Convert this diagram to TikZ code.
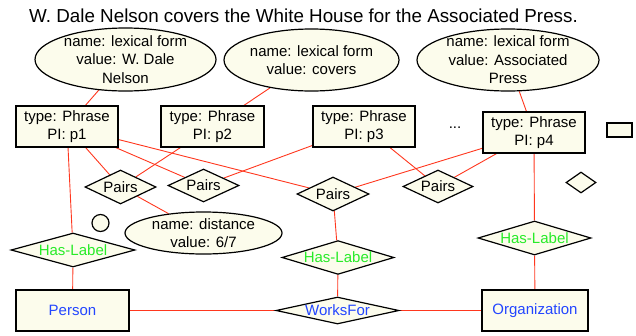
\documentclass[tikz,border=0pt]{standalone}
\usepackage{fontspec}
\setmainfont{Liberation Sans}
\usetikzlibrary{shapes.geometric,backgrounds}
\definecolor{fillc}{RGB}{252,252,236}
\definecolor{edgec}{RGB}{255,55,30}
\definecolor{greenc}{RGB}{40,235,40}
\definecolor{bluec}{RGB}{35,70,255}
\begin{document}
\begin{tikzpicture}[x=1pt,y=-1pt,
  font=\fontsize{15}{18.5}\selectfont,
  base/.style={draw=black, fill=fillc, line width=1.2pt},
  ent/.style 2 args={base, rectangle, inner sep=2pt, align=center, minimum width=#1, minimum height=#2},
  ell/.style 2 args={base, ellipse, inner xsep=0pt, inner ysep=-6pt, align=center, minimum width=#1, minimum height=#2},
  rel/.style 2 args={base, diamond, inner sep=0pt, aspect=3, minimum width=#1, minimum height=#2},
  link/.style={draw=edgec, line width=0.9pt}]
\useasboundingbox (0,0) rectangle (636,335);
\node[anchor=base, font=\fontsize{18.8}{22}\selectfont] (title) at (303.5,22) {W. Dale Nelson covers the White House for the Associated Press.};
% attribute ellipses
\node[ell={181}{63}] (e1) at (125.5,59.5) {name: lexical form\\value: W. Dale\\Nelson};
\node[ell={175}{62}] (e2) at (311.5,60) {name: lexical form\\value: covers};
\node[ell={182}{62}] (e3) at (508,60) {name: lexical form\\value: Associated\\Press};
% phrases
\node[ent={102}{41}] (p1) at (67,126.5) {type: Phrase\\PI: p1};
\node[ent={103}{41}] (p2) at (212.5,126.5) {type: Phrase\\PI: p2};
\node[ent={102}{41}] (p3) at (364,126.5) {type: Phrase\\PI: p3};
\node[ent={102}{41}] (p4) at (534,132.5) {type: Phrase\\PI: p4};
\node (dots) at (455,128) {...};
\node[ent={25}{14}, inner sep=0pt] (sq) at (619.5,130) {};
% pairs
\node[rel={71}{34}] (pr1) at (120.5,187) {Pairs};
\node[rel={71}{33}] (pr2) at (203.5,185.5) {Pairs};
\node[rel={72}{34}] (pr3) at (333,194) {Pairs};
\node[rel={70}{33}] (pr4) at (438,186.5) {Pairs};
\node[rel={30}{21}] (sd) at (581,182.5) {};
\node[base, circle, inner sep=0pt, minimum size=17pt] (circ) at (100.5,223) {};
\node[ell={157}{42}] (dist) at (203.5,233) {name: distance\\value: 6/7};
% labels
\node[rel={124}{34}, text=greenc] (hl1) at (73,250) {Has-Label};
\node[rel={112}{33}, text=greenc] (hl2) at (338,257.5) {Has-Label};
\node[rel={113}{34}, text=greenc] (hl3) at (534.5,238) {Has-Label};
\node[rel={123}{27}, aspect=4.5, text=bluec] (wf) at (337.5,310.5) {WorksFor};
\node[ent={113}{41}, text=bluec] (person) at (72.5,310.5) {Person};
\node[ent={106}{41}, text=bluec] (org) at (535,310.5) {Organization};
% connectors
\begin{scope}[on background layer]
\draw[link] (e1) -- (p1);
\draw[link] (e2) -- (p2);
\draw[link] (e3) -- (p4);
\draw[link] (p1) -- (hl1);
\draw[link] (p1) -- (pr1);
\draw[link] (p1) -- (pr2);
\draw[link] (p1) -- (pr3);
\draw[link] (p2) -- (pr1);
\draw[link] (p3) -- (pr2);
\draw[link] (p3) -- (pr4);
\draw[link] (p4) -- (pr3);
\draw[link] (p4) -- (pr4);
\draw[link] (p4) -- (hl3);
\draw[link] (pr1) -- (dist);
\draw[link] (pr3) -- (hl2);
\draw[link] (hl2) -- (wf);
\draw[link] (hl1) -- (person);
\draw[link] (person) -- (wf);
\draw[link] (wf) -- (org);
\draw[link] (hl3) -- (org);
\end{scope}
\end{tikzpicture}
\end{document}
